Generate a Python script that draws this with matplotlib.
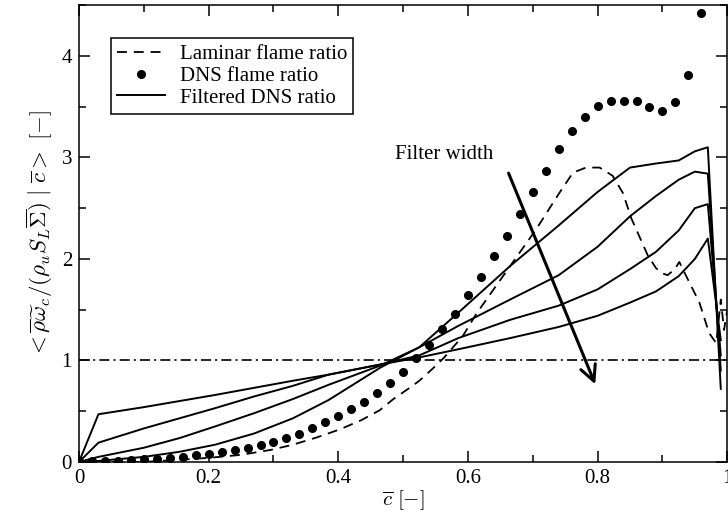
import numpy as np
import matplotlib.pyplot as plt
from matplotlib.ticker import MultipleLocator

plt.rcParams['font.family'] = ['Liberation Serif', 'DejaVu Serif']
plt.rcParams['mathtext.fontset'] = 'cm'
plt.rcParams['font.size'] = 15

# DNS flame ratio (dots), c = 0, 0.02, ..., 0.96
c_dns = np.arange(49) * 0.02
dns = [0.01, 0.01, 0.01, 0.01, 0.02, 0.03, 0.03, 0.04, 0.05, 0.07,
       0.08, 0.10, 0.12, 0.14, 0.17, 0.20, 0.24, 0.28, 0.33, 0.39,
       0.45, 0.52, 0.59, 0.68, 0.78, 0.89, 1.02, 1.15, 1.31, 1.46,
       1.64, 1.82, 2.03, 2.23, 2.44, 2.66, 2.87, 3.08, 3.26, 3.40,
       3.51, 3.56, 3.56, 3.56, 3.50, 3.46, 3.55, 3.81, 4.42]

# laminar flame ratio (dashed)
c_lam = [0.0, 0.1, 0.2, 0.25, 0.297, 0.33, 0.366, 0.402, 0.435, 0.464,
         0.485, 0.51, 0.525, 0.544, 0.562, 0.592, 0.613, 0.654, 0.705, 0.741,
         0.762, 0.782, 0.803, 0.823, 0.839, 0.852, 0.877, 0.89, 0.899, 0.908,
         0.919, 0.926, 0.936, 0.957, 0.972, 0.983, 0.99, 0.995, 1.0]
lam = [0.0, 0.0, 0.04, 0.07, 0.12, 0.17, 0.24, 0.32, 0.41, 0.51,
       0.62, 0.73, 0.80, 0.91, 1.02, 1.24, 1.46, 1.83, 2.29, 2.65,
       2.85, 2.90, 2.90, 2.82, 2.65, 2.40, 2.04, 1.91, 1.86, 1.84,
       1.90, 1.97, 1.84, 1.57, 1.27, 1.17, 1.60, 1.30, 1.50]

# filtered DNS ratio, four filter widths (narrow -> wide)
c_filt = [0.0, 0.03, 0.1, 0.155, 0.21, 0.27, 0.33, 0.385, 0.465, 0.525,
          0.585, 0.665, 0.74, 0.80, 0.85, 0.89, 0.925, 0.95, 0.97, 0.99]
filt_1 = [0.0, 0.01, 0.05, 0.10, 0.17, 0.28, 0.43, 0.61, 0.93, 1.13,
          1.47, 1.93, 2.33, 2.66, 2.90, 2.94, 2.97, 3.06, 3.10, 0.72]
filt_2 = [0.0, 0.05, 0.14, 0.235, 0.35, 0.48, 0.62, 0.76, 0.95, 1.13,
          1.34, 1.60, 1.84, 2.12, 2.42, 2.62, 2.78, 2.86, 2.84, 0.90]
filt_3 = [0.0, 0.19, 0.33, 0.43, 0.53, 0.645, 0.75, 0.86, 0.96, 1.05,
          1.22, 1.40, 1.54, 1.70, 1.90, 2.07, 2.28, 2.50, 2.54, 1.05]
filt_4 = [0.0, 0.47, 0.54, 0.60, 0.66, 0.73, 0.80, 0.86, 0.96, 1.03,
          1.11, 1.22, 1.33, 1.44, 1.57, 1.68, 1.83, 2.00, 2.20, 1.20]

fig = plt.figure(figsize=(7.28, 5.15), dpi=100)
ax = fig.add_axes([0.1085, 0.103, 0.8905, 0.887])

ax.axhline(1.0, color='black', lw=1.2, dashes=(6, 2.5, 1.2, 2.5))
ax.plot(c_lam, lam, color='black', lw=1.3, dashes=(5.5, 3.8), label='Laminar flame ratio')
ax.plot(c_dns, dns, 'o', color='black', ms=5.5, label='DNS flame ratio')
for i, f in enumerate([filt_1, filt_2, filt_3, filt_4]):
    ax.plot(c_filt, f, color='black', lw=1.4, label='Filtered DNS ratio' if i == 0 else None)

ax.annotate('', xy=(0.798, 0.74), xytext=(0.661, 2.87),
            arrowprops=dict(arrowstyle='->', color='black', lw=2.2, mutation_scale=28))
ax.text(0.564, 3.03, 'Filter width', ha='center', va='center', fontsize=15)

ax.set_xlim(0, 1)
ax.set_ylim(0, 4.5)
ax.xaxis.set_major_locator(MultipleLocator(0.2))
ax.xaxis.set_minor_locator(MultipleLocator(0.1))
ax.yaxis.set_major_locator(MultipleLocator(1))
ax.yaxis.set_minor_locator(MultipleLocator(0.5))
ax.set_xticks([0, 0.2, 0.4, 0.6, 0.8, 1.0])
ax.set_xticklabels(['0', '0.2', '0.4', '0.6', '0.8', '1'])
ax.tick_params(which='both', direction='in', top=True, right=True, width=1.1)
ax.tick_params(which='major', length=8, pad=5)
ax.tick_params(which='minor', length=5)
for s in ax.spines.values():
    s.set_linewidth(1.1)

ax.set_xlabel(r'$\overline{c}\ [-]$', fontsize=15, labelpad=0)
ax.set_ylabel(r'$<\overline{\rho}\widetilde{\omega}_c/(\rho_u S_L\overline{\Sigma})\ |\ \overline{c}>\ [-]$',
              fontsize=16.5, labelpad=5)

leg = ax.legend(loc='upper left', bbox_to_anchor=(0.049, 0.927), borderaxespad=0,
                fancybox=False, framealpha=1, edgecolor='black', fontsize=15,
                handlelength=2.3, handletextpad=0.7, labelspacing=0.1, borderpad=0.3)
leg.get_frame().set_linewidth(1.1)

plt.savefig('out.png', dpi=100)
